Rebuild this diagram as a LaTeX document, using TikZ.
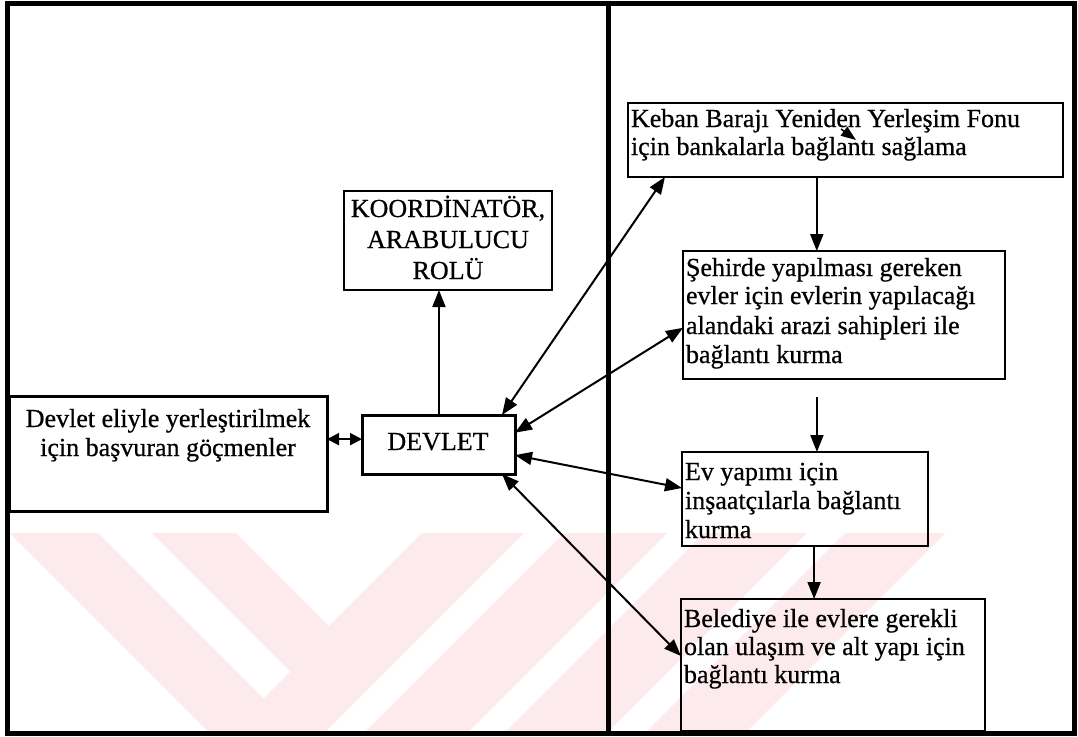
\documentclass[tikz,border=0pt]{standalone}
\usepackage{fontspec}
\setmainfont{Liberation Serif}[FakeBold=0.6]
\usetikzlibrary{arrows.meta,calc}
\definecolor{wmpink}{RGB}{253,234,237}
\tikzset{
  box/.style={draw=black, line width=2.5pt, rectangle, inner sep=0pt, outer sep=0pt, anchor=north west},
  txt/.style={inner sep=0pt, outer sep=0pt, font=\fontsize{26}{29}\selectfont, text=black},
  arr/.style={draw=black, line width=2pt, -{Triangle[length=17pt,width=13pt]}},
  dbl/.style={draw=black, line width=2pt, {Triangle[length=17pt,width=13pt]}-{Triangle[length=17pt,width=13pt]}},
  sdbl/.style={draw=black, line width=2pt, {Triangle[length=12pt,width=12pt]}-{Triangle[length=12pt,width=12pt]}},
  frameline/.style={draw=black, line width=5pt},
  wm/.style={fill=wmpink, draw=none},
}
\begin{document}
\begin{tikzpicture}[x=1pt,y=-1pt]
\useasboundingbox (0,0) rectangle (1078,736);
\fill[white] (0,0) rectangle (1078,736);

% faint watermark
\fill[wm] (10,533) -- (98,533) -- (263.5,698.5) -- (290.5,671.5) -- (152,533) -- (236,533)
  -- (329,626) -- (422,533) -- (524,533) -- (324,733) -- (210,733) -- cycle;
\fill[wm] (564,533) -- (667,533) -- (467,733) -- (364,733) -- cycle;
\fill[wm] (704,533) -- (807,533) -- (607,733) -- (504,733) -- cycle;
\fill[wm] (845,533) -- (945,533) -- (745,733) -- (645,733) -- cycle;

% frame and divider
\draw[frameline] (7,3) rectangle (1074,733);
\draw[frameline] (608,3) -- (608,733);

% boxes
\node[box, line width=3pt, minimum width=318pt, minimum height=115pt] (migr) at (9,396) {};
\node[box, line width=3pt, minimum width=153pt, minimum height=59pt] (devlet) at (362,415) {};
\node[box, minimum width=208pt, minimum height=99pt] (koord) at (344,191) {};
\node[box, line width=2pt, minimum width=435pt, minimum height=74pt] (keban) at (628,103) {};
\node[box, minimum width=322pt, minimum height=128pt] (sehir) at (683,251) {};
\node[box, minimum width=246pt, minimum height=94pt] (ev) at (682,452) {};
\node[box, minimum width=304pt, minimum height=132pt] (beled) at (681,599) {};

% texts
\node[txt, anchor=base] (migrA) at (168,427) {Devlet eliyle yerleştirilmek};
\node[txt, anchor=base] (migrB) at (168,456) {için başvuran göçmenler};
\node[txt, anchor=base] (devletT) at (438,450) {DEVLET};
\node[txt, anchor=base] (koordA) at (448,217) {KOORDİNATÖR,};
\node[txt, anchor=base] (koordB) at (448,248) {ARABULUCU};
\node[txt, anchor=base] (koordC) at (448,279) {ROLÜ};
\node[txt, anchor=base west] (kebanA) at (631,127) {Keban Barajı Yeniden Yerleşim Fonu};
\node[txt, anchor=base west] (kebanB) at (631,155) {için bankalarla bağlantı sağlama};
\node[txt, anchor=base west] (sehirA) at (686,276) {Şehirde yapılması gereken};
\node[txt, anchor=base west] (sehirB) at (686,304) {evler için evlerin yapılacağı};
\node[txt, anchor=base west] (sehirC) at (686,334) {alandaki arazi sahipleri ile};
\node[txt, anchor=base west] (sehirD) at (686,363) {bağlantı kurma};
\node[txt, anchor=base west] (evA) at (685,480) {Ev yapımı için};
\node[txt, anchor=base west] (evB) at (685,509) {inşaatçılarla bağlantı};
\node[txt, anchor=base west] (evC) at (685,538) {kurma};
\node[txt, anchor=base west] (beledA) at (684,627) {Belediye ile evlere gerekli};
\node[txt, anchor=base west] (beledB) at (684,655) {olan ulaşım ve alt yapı için};
\node[txt, anchor=base west] (beledC) at (684,683) {bağlantı kurma};

% connectors
\coordinate (m1) at ($(migr.north east)!0.375!(migr.south east)$);
\draw[sdbl] (m1) -- (m1 -| devlet.west);

\coordinate (d0) at ($(devlet.north west)!0.503!(devlet.north east)$);
\draw[arr] (d0) -- (d0 |- koord.south);

\draw[dbl] ($(devlet.north west)!0.915!(devlet.north east)$) -- ($(keban.south west)!0.085!(keban.south east)$);
\draw[dbl] ($(devlet.north east)!0.3!(devlet.south east)$) -- ($(sehir.north west)!0.6!(sehir.south west)$);
\draw[dbl] ($(devlet.north east)!0.68!(devlet.south east)$) -- ($(ev.north west)!0.383!(ev.south west)$);
\draw[dbl] ($(devlet.south west)!0.915!(devlet.south east)$) -- ($(beled.north west)!0.432!(beled.south west)$);

\coordinate (k0) at ($(keban.south west)!0.434!(keban.south east)$);
\draw[arr] (k0) -- (k0 |- sehir.north);
\coordinate (s0) at ($(sehir.south west)!0.416!(sehir.south east)$);
\draw[arr] ([yshift=-18pt]s0) -- (s0 |- ev.north);
\coordinate (e0) at ($(ev.south west)!0.537!(ev.south east)$);
\draw[arr] (e0) -- (e0 |- beled.north);

% stray arrowhead inside the Keban box
\coordinate (st) at ($(keban.north west)+(228,37)$);
\draw[line width=1.5pt, -{Triangle[length=15pt,width=11pt]}] ($(st)+(-15,-11)$) -- (st);
\end{tikzpicture}
\end{document}
